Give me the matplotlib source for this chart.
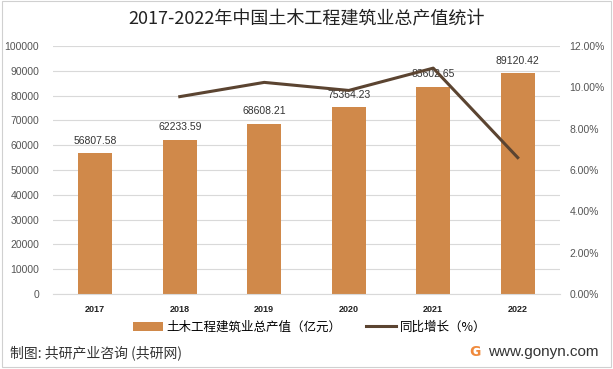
import matplotlib
matplotlib.use("Agg")
import matplotlib.pyplot as plt
from matplotlib.patches import Rectangle, Patch
from matplotlib.lines import Line2D
from matplotlib.ticker import FuncFormatter, MultipleLocator

plt.rcParams['font.family'] = ['Noto Sans CJK SC', 'DejaVu Sans']

years = ['2017', '2018', '2019', '2020', '2021', '2022']
output_value = [56807.58, 62233.59, 68608.21, 75364.23, 83602.65, 89120.42]
growth_years = ['2018', '2019', '2020', '2021', '2022']
growth = [9.55, 10.24, 9.85, 10.93, 6.60]

bar_color = '#D0894A'
line_color = '#5B4431'

fig = plt.figure(figsize=(6.13, 3.69), dpi=100)
ax = fig.add_axes([0.0865, 0.2033, 0.827, 0.672])

x = list(range(len(years)))
ax.bar(x, output_value, width=0.4, color=bar_color, zorder=2)
for xi, v in zip(x, output_value):
    ax.text(xi, v + 3000, f'{v:.2f}', ha='center', va='bottom', fontsize=7.5,
            color='#333333', family=['Liberation Sans', 'DejaVu Sans'], zorder=4)

ax.set_xlim(-0.5, len(years) - 0.5)
ax.set_ylim(0, 100000)
ax.yaxis.set_major_locator(MultipleLocator(10000))
ax.grid(axis='y', color='#D9D9D9', linewidth=0.8, zorder=0)
ax.set_xticks(x)
ax.set_xticklabels(years, fontsize=6.5, fontweight='bold',
                   family=['Liberation Sans', 'DejaVu Sans'], color='#222222')
for lab in ax.get_yticklabels():
    lab.set_family(['Liberation Sans', 'DejaVu Sans'])
ax.tick_params(axis='y', labelsize=7.5, length=0, colors='#555555', pad=10)
ax.tick_params(axis='x', length=0, pad=8)
for s in ax.spines.values():
    s.set_visible(False)
ax.spines['bottom'].set_visible(True)
ax.spines['bottom'].set_color('#D9D9D9')

ax2 = ax.twinx()
gx = [years.index(y) for y in growth_years]
ax2.plot(gx, growth, color=line_color, linewidth=2.2, zorder=3)
ax2.set_ylim(0, 12)
ax2.yaxis.set_major_locator(MultipleLocator(2))
ax2.yaxis.set_major_formatter(FuncFormatter(lambda v, p: f'{v:.2f}%'))
ax2.tick_params(axis='y', labelsize=7.5, length=0, colors='#555555', pad=7)
for lab in ax2.get_yticklabels():
    lab.set_family(['Liberation Sans', 'DejaVu Sans'])
for s in ax2.spines.values():
    s.set_visible(False)

fig.text(0.5, 0.948, '2017-2022年中国土木工程建筑业总产值统计', ha='center', va='center',
         fontsize=13, color='#222222')

handles = [Patch(facecolor=bar_color, edgecolor='none'),
           Line2D([0], [0], color=line_color, linewidth=2.2)]
fig.legend(handles, ['土木工程建筑业总产值（亿元）', '同比增长（%）'],
           loc='center', bbox_to_anchor=(0.505, 0.113), ncol=2, frameon=False,
           fontsize=9, handlelength=2.4, handleheight=0.8, columnspacing=2.0,
           handletextpad=0.3)

fig.text(0.016, 0.045, '制图: 共研产业咨询 (共研网)', ha='left', va='center',
         fontsize=10, color='#333333')
fig.text(0.977, 0.045, 'www.gonyn.com', ha='right', va='center', fontsize=11,
         color='#333333', family=['Liberation Sans', 'DejaVu Sans'])
fig.text(0.775, 0.045, 'G', ha='center', va='center', fontsize=10, fontweight='bold',
         color='#F08A3C', family=['DejaVu Sans'])

fig.patches.append(Rectangle((0.004, 0.006), 0.992, 0.99, transform=fig.transFigure,
                             fill=False, edgecolor='#D0D0D0', linewidth=0.8))

fig.savefig('out.png', dpi=100)
